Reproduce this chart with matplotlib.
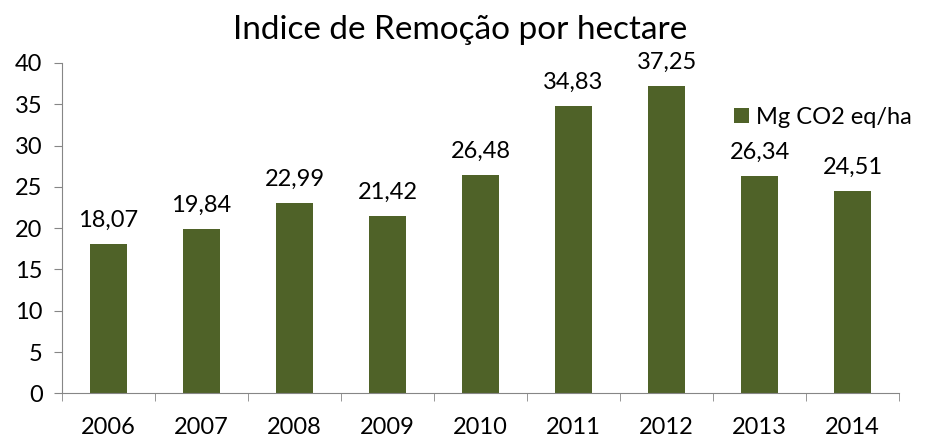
import matplotlib
matplotlib.use("Agg")
import matplotlib.pyplot as plt

years = ['2006', '2007', '2008', '2009', '2010', '2011', '2012', '2013', '2014']
values = [18.07, 19.84, 22.99, 21.42, 26.48, 34.83, 37.25, 26.34, 24.51]
labels = ['18,07', '19,84', '22,99', '21,42', '26,48', '34,83', '37,25', '26,34', '24,51']

plt.rcParams['font.family'] = ['Lato', 'DejaVu Sans']
color = '#4F6228'

fig = plt.figure(figsize=(9.26, 4.37), dpi=100)
ax = fig.add_axes([0.067, 0.1, 0.904, 0.756])

x = list(range(len(years)))
ax.bar(x, values, width=0.4, color=color, label='Mg CO2 eq/ha')
for xi, v, t in zip(x, values, labels):
    ax.text(xi, v + 1.6, t, ha='center', va='bottom', fontsize=17)

ax.set_xlim(-0.5, len(years) - 0.5)
ax.set_ylim(0, 40)
ax.set_yticks(range(0, 41, 5))
ax.set_xticks(x)
ax.set_xticklabels(years)
ax.set_xticks([i - 0.5 for i in range(len(years) + 1)], minor=True)
ax.tick_params(axis='x', which='major', length=0, pad=17, labelsize=17)
ax.tick_params(axis='x', which='minor', length=6, color='#868686', direction='out')
ax.tick_params(axis='y', length=6, color='#868686', labelsize=17, pad=8)

ax.spines['top'].set_visible(False)
ax.spines['right'].set_visible(False)
ax.spines['left'].set_color('#868686')
ax.spines['bottom'].set_color('#868686')

ax.set_title('Indice de Remoção por hectare', fontsize=24, pad=17, x=0.475)
ax.legend(loc='upper right', bbox_to_anchor=(1.04, 0.93), frameon=False, fontsize=17,
          handlelength=0.6, handleheight=0.6, handletextpad=0.3)

fig.savefig('out.png', dpi=100)
